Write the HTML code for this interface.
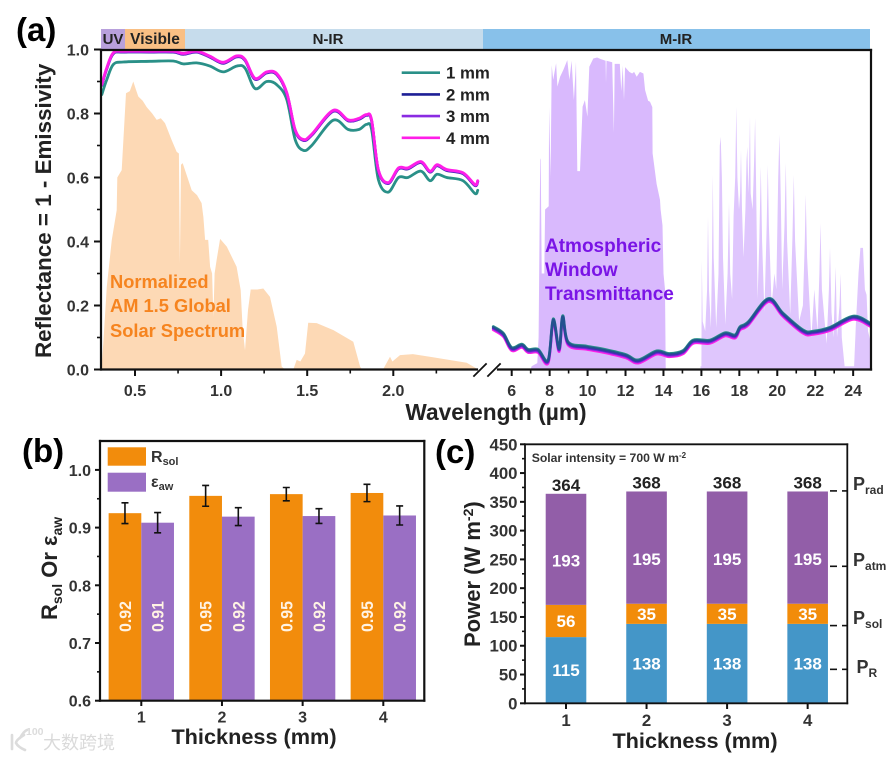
<!DOCTYPE html>
<html lang="en">
<head>
<meta charset="utf-8">
<title>Reflectance spectra, Rsol / emissivity bars and power budget</title>
<style>
html,body{margin:0;padding:0;background:#fff;}
svg{display:block;font-family:"Liberation Sans",sans-serif;font-weight:bold;filter:blur(0.35px);}
</style>
</head>
<body>
<svg id="fig" xmlns="http://www.w3.org/2000/svg" width="886" height="758" viewBox="0 0 886 758">
  <defs>
    <clipPath id="clipA"><rect x="101" y="50" width="770" height="319.5"/></clipPath>
  </defs>

  <g id="panelA">
    <g id="aBands">
      <rect x="101" y="29" width="24" height="20" fill="#b8a0dc"/>
      <rect x="125" y="29" width="60" height="20" fill="#f9bf84"/>
      <rect x="185" y="29" width="298" height="20" fill="#c6dcec"/>
      <rect x="483" y="29" width="387" height="20" fill="#88c1ea"/>
      <text x="113" y="44" font-size="15" text-anchor="middle" fill="#222">UV</text>
      <text x="155" y="44" font-size="15.5" text-anchor="middle" fill="#222">Visible</text>
      <text x="328" y="44" font-size="15" text-anchor="middle" fill="#222">N-IR</text>
      <text x="676" y="44" font-size="15" text-anchor="middle" fill="#222">M-IR</text>
    </g>
    <g id="aFills" clip-path="url(#clipA)"></g>
    <g id="aLines" clip-path="url(#clipA)"></g>
    <g id="aAxes"></g>
    <text font-size="18.3" fill="#f6841f">
      <tspan x="110" y="288">Normalized</tspan>
      <tspan x="110" y="312">AM 1.5 Global</tspan>
      <tspan x="110" y="337">Solar Spectrum</tspan>
    </text>
    <text font-size="19" fill="#7a14e6">
      <tspan x="545" y="252">Atmospheric</tspan>
      <tspan x="545" y="276">Window</tspan>
      <tspan x="545" y="300">Transmittance</tspan>
    </text>
    <g id="aLegend"></g>
    <text x="496" y="420" font-size="22.7" text-anchor="middle" fill="#222">Wavelength (µm)</text>
    <text transform="translate(51,358) rotate(-90)" font-size="22.4" fill="#222">Reflectance = 1 - Emissivity</text>
    <text x="16" y="41" font-size="33" fill="#000">(a)</text>
  </g>

  <g id="panelB">
    <g id="bBars"></g>
    <g id="bAxes"></g>
    <g>
      <rect x="107.7" y="447.3" width="38.3" height="18.4" fill="#f28c0c"/>
      <rect x="107.7" y="472.7" width="38.3" height="19" fill="#9a6fc4"/>
      <text x="151" y="462" font-size="16" fill="#333">R<tspan font-size="11" dy="3">sol</tspan></text>
      <text x="151" y="487" font-size="16" fill="#333">ε<tspan font-size="11" dy="3">aw</tspan></text>
    </g>
    <text x="254" y="744" font-size="21.7" text-anchor="middle" fill="#222">Thickness (mm)</text>
    <text transform="translate(57,620) rotate(-90)" font-size="22" fill="#222">R<tspan font-size="14" dy="5">sol</tspan><tspan dy="-5"> Or ε</tspan><tspan font-size="14" dy="5">aw</tspan></text>
    <text x="22" y="462" font-size="33" fill="#000">(b)</text>
  </g>

  <g id="panelC">
    <g id="cBars"></g>
    <g id="cAxes"></g>
    <text x="531.7" y="462" font-size="12.2" fill="#333">Solar intensity = 700 W m<tspan font-size="8" dy="-4">-2</tspan></text>
    <text x="853" y="490" font-size="18" fill="#333">P<tspan font-size="12" dy="4">rad</tspan></text>
    <text x="853" y="566" font-size="18" fill="#333">P<tspan font-size="12" dy="4">atm</tspan></text>
    <text x="853" y="624" font-size="18" fill="#333">P<tspan font-size="12" dy="4">sol</tspan></text>
    <text x="856.5" y="673" font-size="18" fill="#333">P<tspan font-size="12" dy="4">R</tspan></text>
    <text x="695" y="748" font-size="21.7" text-anchor="middle" fill="#222">Thickness (mm)</text>
    <text transform="translate(480,647) rotate(-90)" font-size="22" fill="#222">Power (W m<tspan font-size="14" dy="-7">-2</tspan><tspan dy="7">)</tspan></text>
    <text x="435" y="463" font-size="33" fill="#000">(c)</text>
  </g>

  <g fill="none" stroke="#dcdcdc">
    <path d="M12 735 V749 M24 735 Q16 740 16 743 Q18 747 25 750 M20 738 Q24 731 27 730" stroke-width="2.6" stroke-linecap="round"/>
    <text x="26" y="735" font-size="10.5" fill="#dcdcdc" stroke="none">100</text>
    <text x="43" y="749" font-size="18" fill="#dadada" stroke="none" font-weight="normal" style="font-family:'Liberation Sans','Noto Sans CJK SC',sans-serif">大数跨境</text>
  </g>
</svg>

<script>
/* ---------- Panel (a) data ---------- */
const solarWl = [0.30,0.307,0.316,0.336,0.365,0.394,0.397,0.423,0.448,0.47,0.49,0.505,0.519,0.545,0.568,0.6,0.626,0.65,0.674,0.713,0.742,0.755,0.761,0.767,0.777,0.829,0.86,0.887,0.897,0.907,0.925,0.936,0.948,0.955,0.962,0.974,0.994,1.033,1.09,1.114,1.125,1.139,1.156,1.172,1.21,1.245,1.284,1.323,1.352,1.371,1.419,1.439,1.46,1.487,1.506,1.555,1.652,1.768,1.807,1.818,1.94,1.981,1.995,2.039,2.114,2.23,2.426,2.484];
const solarValues = [0,0.02,0.082,0.259,0.405,0.498,0.60,0.623,0.863,0.87,0.90,0.875,0.853,0.84,0.82,0.80,0.78,0.785,0.77,0.717,0.68,0.675,0.33,0.64,0.645,0.56,0.545,0.52,0.476,0.405,0.405,0.321,0.30,0.164,0.30,0.342,0.408,0.384,0.321,0.248,0.13,0.06,0.186,0.25,0.25,0.253,0.227,0.134,0.009,0,0,0.03,0.025,0.05,0.146,0.145,0.123,0.087,0.009,0,0,0.04,0.025,0.045,0.048,0.038,0.021,0.003];

const atmWl = [7.0,7.05,7.35,7.42,7.5,7.53,7.58,7.72,7.76,7.95,7.97,8.05,8.11,8.19,8.34,8.41,8.55,8.72,8.93,9.04,9.16,9.28,9.39,9.46,9.6,9.74,9.86,9.99,10.09,10.3,10.5,10.7,10.95,10.97,11.0,11.3,11.39,11.43,11.7,11.78,11.85,11.92,11.98,12.2,12.35,12.45,12.59,12.76,12.94,13.03,13.19,13.29,13.41,13.43,13.64,13.82,13.85,13.95,14.0,14.08,14.12];
const atmValues = [0,0.01,0.02,0.1,0.655,0.66,0.3,0.3,0.5,0.51,0.82,0.6,0.951,0.905,0.957,0.884,0.915,0.936,0.967,0.905,0.965,0.842,0.962,0.62,0.62,0.821,0.842,0.79,0.946,0.972,0.975,0.97,0.965,0.895,0.965,0.96,0.739,0.955,0.955,0.87,0.95,0.842,0.945,0.93,0.925,0.93,0.915,0.93,0.925,0.873,0.84,0.837,0.82,0.676,0.58,0.53,0.50,0.45,0.30,0.25,0.01];

const atmFarWl = [15.95,16.0,16.02,16.07,16.2,16.3,16.35,16.4,16.5,16.56,16.6,16.65,16.78,16.9,16.97,17.02,17.08,17.14,17.26,17.38,17.455,17.52,17.62,17.7,17.78,17.84,17.9,17.98,18.04,18.09,18.14,18.22,18.32,18.38,18.42,18.48,18.52,18.56,18.6,18.7,18.78,18.83,18.88,18.96,19.05,19.13,19.2,19.32,19.44,19.5,19.56,19.7,19.85,19.95,20.05,20.11,20.18,20.26,20.38,20.45,20.52,20.68,20.8,20.87,20.94,21.15,21.35,21.45,21.5,21.57,21.8,21.95,22.12,22.22,22.28,22.35,22.6,22.72,22.78,22.86,22.96,23.08,23.15,23.28,23.34,23.4,23.55,24.05,24.15,24.28,24.38,24.52,24.62,24.71,24.78,24.95];
const atmFarValues = [0.01,0.01,0.342,0.15,0.12,0.25,0.478,0.25,0.13,0.35,0.608,0.35,0.13,0.3,0.7,0.727,0.6,0.35,0.14,0.3,0.524,0.3,0.22,0.48,0.6,0.821,0.6,0.5,0.55,0.686,0.5,0.35,0.5,0.65,0.696,0.55,0.65,0.79,0.55,0.5,0.65,0.786,0.6,0.22,0.4,0.634,0.4,0.18,0.45,0.64,0.45,0.2,0.3,0.25,0.6,0.735,0.55,0.25,0.45,0.646,0.4,0.17,0.42,0.608,0.4,0.15,0.2,0.4,0.547,0.35,0.1,0.25,0.12,0.3,0.457,0.25,0.08,0.25,0.38,0.18,0.1,0.321,0.1,0.2,0.30,0.1,0.01,0.01,0.15,0.3,0.38,0.38,0.25,0.233,0.12,0.08];

const wlLeft = [0.307,0.336,0.374,0.432,0.587,0.722,0.78,0.858,0.935,1.012,1.09,1.139,1.197,1.265,1.323,1.381,1.43,1.477,1.526,1.651,1.738,1.8,1.845,1.874,1.913,1.97,2.03,2.085,2.16,2.213,2.254,2.31,2.405,2.474,2.49];
const refl1Left = [0.859,0.906,0.953,0.961,0.963,0.964,0.955,0.958,0.948,0.93,0.948,0.942,0.878,0.9,0.89,0.844,0.719,0.685,0.70,0.779,0.75,0.75,0.766,0.75,0.594,0.554,0.6,0.6,0.62,0.59,0.61,0.6,0.59,0.55,0.56];
const refl2Left = [0.888,0.94,0.987,0.992,0.992,0.992,0.985,0.992,0.976,0.957,0.977,0.966,0.907,0.927,0.922,0.863,0.747,0.716,0.732,0.807,0.777,0.782,0.794,0.777,0.622,0.581,0.627,0.627,0.647,0.617,0.637,0.622,0.612,0.575,0.587];
const refl3Left = [0.889,0.941,0.988,0.993,0.993,0.993,0.986,0.993,0.977,0.958,0.978,0.967,0.908,0.928,0.923,0.864,0.748,0.717,0.733,0.808,0.778,0.783,0.795,0.778,0.623,0.582,0.628,0.628,0.648,0.618,0.638,0.623,0.613,0.576,0.588];
const refl4Left = [0.891,0.943,0.99,0.995,0.995,0.995,0.988,0.995,0.979,0.96,0.98,0.969,0.91,0.93,0.925,0.866,0.75,0.719,0.735,0.81,0.78,0.785,0.797,0.78,0.625,0.584,0.63,0.63,0.65,0.62,0.64,0.625,0.615,0.578,0.59];

const wlRight = [5.03,5.56,6,6.53,6.87,7.39,7.92,8.19,8.5,8.69,8.97,9.95,10.8,12,12.67,13.64,14.3,15.03,15.57,16.45,17.25,17.77,18.04,18.47,19.53,20.3,21.37,21.9,22.78,24,24.9];
const refl1Right = [0.134,0.113,0.069,0.079,0.063,0.063,0.03,0.158,0.066,0.168,0.087,0.073,0.064,0.047,0.03,0.058,0.05,0.059,0.092,0.092,0.115,0.108,0.134,0.149,0.222,0.176,0.123,0.12,0.132,0.167,0.145];
const refl2Right = [0.131,0.11,0.066,0.076,0.06,0.06,0.027,0.155,0.063,0.165,0.084,0.07,0.061,0.044,0.027,0.055,0.047,0.056,0.089,0.089,0.112,0.105,0.131,0.146,0.219,0.173,0.12,0.117,0.129,0.164,0.142];
const refl3Right = [0.128,0.107,0.063,0.073,0.057,0.057,0.024,0.152,0.06,0.162,0.081,0.067,0.058,0.041,0.024,0.052,0.044,0.053,0.086,0.086,0.109,0.102,0.128,0.143,0.216,0.17,0.117,0.114,0.126,0.161,0.139];
const refl4Right = [0.124,0.103,0.059,0.069,0.053,0.053,0.02,0.148,0.056,0.158,0.077,0.063,0.054,0.037,0.02,0.048,0.04,0.049,0.082,0.082,0.105,0.098,0.124,0.139,0.212,0.166,0.113,0.11,0.122,0.157,0.135];

const legendNames = ["1 mm","2 mm","3 mm","4 mm"];
const aYTicks = [0,0.2,0.4,0.6,0.8,1.0];
const aYMinor = [0.1,0.3,0.5,0.7,0.9];
const aXLeftTicks = [0.5,1.0,1.5,2.0];
const aXLeftMinor = [0.75,1.25,1.75,2.25];
const aXRightTicks = [6,8,10,12,14,16,18,20,22,24];
const aXRightMinor = [7,9,11,13,15,17,19,21,23];

/* ---------- Panel (b) data ---------- */
const thickness = [1,2,3,4];
const rsolValues = [0.925,0.955,0.958,0.96];
const eawValues = [0.9085,0.919,0.92,0.921];
const rsolErrors = [0.018,0.018,0.0115,0.015];
const eawErrors = [0.0175,0.0155,0.0127,0.0165];
const rsolLabels = ["0.92","0.95","0.95","0.95"];
const eawLabels = ["0.91","0.92","0.92","0.92"];
const bYTicks = [0.6,0.7,0.8,0.9,1.0];
const bYMinor = [0.65,0.75,0.85,0.95];

/* ---------- Panel (c) data ---------- */
const powerR = [115,138,138,138];
const powerSol = [56,35,35,35];
const powerAtm = [193,195,195,195];
const powerTotal = [364,368,368,368];
const cYTicks = [0,50,100,150,200,250,300,350,400,450];
const cYMinor = [25,75,125,175,225,275,325,375,425];
const cRightMarks = [369,238,135,59];

/* ---------- Axis functions ---------- */
const NS = "http://www.w3.org/2000/svg";
const xLeft = w => 135 + (w - 0.5) * 172.2;
const xRight = w => 511.7 + (w - 6) * 18.97;
const yA = v => 369.5 - v * 320;
const xB = t => 141.3 + (t - 1) * 80.67;
const yB = v => 700.7 - (v - 0.6) * 577;
const xC = t => 566 + (t - 1) * 80.55;
const yC = v => 703.3 - v * 0.5756;

function node(tag, attrs, parent) {
  const el = document.createElementNS(NS, tag);
  for (const k in attrs) el.setAttribute(k, attrs[k]);
  parent.appendChild(el);
  return el;
}
function tickLine(parent, x1, y1, x2, y2, w) {
  const el = node("line", {x1: x1, y1: y1, x2: x2, y2: y2, stroke: "#111", "stroke-width": w}, parent);
  
  
  return el;
}
function tickText(parent, x, y, str, anchor, size) {
  const el = node("text", {x: x, y: y, "text-anchor": anchor, "font-size": size, fill: "#333"}, parent);
  el.textContent = str;
  
  
  return el;
}
function framePart(parent, x1, y1, x2, y2, w) {
  const el = node("line", {x1: x1, y1: y1, x2: x2, y2: y2, stroke: "#111", "stroke-width": w, "stroke-linecap": "square"}, parent);
  
  
  return el;
}

/* ---------- Panel (a) drawing ---------- */
const aFills = document.getElementById("aFills");
const aLines = document.getElementById("aLines");
const aAxes = document.getElementById("aAxes");
const aLegend = document.getElementById("aLegend");

function areaPoints(wls, vals, xf) {
  const pts = wls.map((w, i) => xf(w).toFixed(1) + "," + yA(vals[i]).toFixed(1));
  pts.unshift(xf(wls[0]).toFixed(1) + "," + yA(0));
  pts.push(xf(wls[wls.length - 1]).toFixed(1) + "," + yA(0));
  return pts.join(" ");
}
const solarArea = node("polygon", {points: areaPoints(solarWl, solarValues, xLeft), fill: "#fdd9b5"}, aFills);


const atmArea = node("polygon", {points: areaPoints(atmWl, atmValues, xRight), fill: "#d9b9fd"}, aFills);


const atmFarArea = node("polygon", {points: areaPoints(atmFarWl, atmFarValues, xRight), fill: "#dfc6fd"}, aFills);



const lineColors = ["#2a9088", "#1d1f96", "#8a2be2", "#ff1ee8"];
function smoothPath(px, py) {
  let d = "M" + px[0].toFixed(1) + " " + py[0].toFixed(1);
  for (let i = 0; i < px.length - 1; i++) {
    const a = Math.max(i - 1, 0), b = Math.min(i + 2, px.length - 1);
    const c1x = px[i] + (px[i + 1] - px[a]) / 6, c1y = py[i] + (py[i + 1] - py[a]) / 6;
    const c2x = px[i + 1] - (px[b] - px[i]) / 6, c2y = py[i + 1] - (py[b] - py[i]) / 6;
    d += "C" + c1x.toFixed(1) + " " + c1y.toFixed(1) + " " + c2x.toFixed(1) + " " + c2y.toFixed(1) + " " + px[i + 1].toFixed(1) + " " + py[i + 1].toFixed(1);
  }
  return d;
}
function curve(wls, vals, xf, color, opacity) {
  const d = smoothPath(wls.map(xf), vals.map(yA));
  const el = node("path", {d: d, fill: "none", stroke: color, "stroke-opacity": opacity, "stroke-width": 2.8, "stroke-linejoin": "round", "stroke-linecap": "round"}, aLines);
  
  
}
curve(wlLeft, refl1Left, xLeft, lineColors[0], 1);
curve(wlLeft, refl2Left, xLeft, lineColors[1], 1);
curve(wlLeft, refl3Left, xLeft, lineColors[2], 1);
curve(wlLeft, refl4Left, xLeft, lineColors[3], 1);
curve(wlRight, refl4Right, xRight, lineColors[3], 1);
curve(wlRight, refl3Right, xRight, lineColors[2], 1);
curve(wlRight, refl1Right, xRight, lineColors[0], 1);
curve(wlRight, refl2Right, xRight, lineColors[1], 0.55);

framePart(aAxes, 101, 50, 871, 50, 2.2);
framePart(aAxes, 101, 50, 101, 369.5, 2.2);
framePart(aAxes, 871, 50, 871, 369.5, 2.2);
framePart(aAxes, 101, 369.5, 477, 369.5, 2.2);
framePart(aAxes, 498, 369.5, 871, 369.5, 2.2);
framePart(aAxes, 474, 376, 486, 364, 1.8);
framePart(aAxes, 488, 376, 500, 364, 1.8);

aYTicks.forEach(v => {
  tickLine(aAxes, 94, yA(v), 101, yA(v), 2);
  tickText(aAxes, 89, yA(v) + 6, v.toFixed(1), "end", 16);
});
aYMinor.forEach(v => { tickLine(aAxes, 97, yA(v), 101, yA(v), 1.6); });
aXLeftTicks.forEach(w => {
  tickLine(aAxes, xLeft(w), 369.5, xLeft(w), 376, 2);
  tickText(aAxes, xLeft(w), 396, w.toFixed(1), "middle", 16);
});
aXLeftMinor.forEach(w => { tickLine(aAxes, xLeft(w), 369.5, xLeft(w), 373.5, 1.6); });
aXRightTicks.forEach(w => {
  tickLine(aAxes, xRight(w), 369.5, xRight(w), 376, 2);
  tickText(aAxes, xRight(w), 396, String(w), "middle", 16);
});
aXRightMinor.forEach(w => { tickLine(aAxes, xRight(w), 369.5, xRight(w), 373.5, 1.6); });

legendNames.forEach((name, i) => {
  const ly = 72.7 + i * 21.7;
  const ll = node("line", {x1: 401.7, y1: ly, x2: 440, y2: ly, stroke: lineColors[i], "stroke-width": 2.6}, aLegend);
  
  
  const lt = node("text", {x: 446, y: ly + 6, "font-size": 16.8, fill: "#222"}, aLegend);
  lt.textContent = name;
  
  
});

/* ---------- Panel (b) drawing ---------- */
const bBars = document.getElementById("bBars");
const bAxes = document.getElementById("bAxes");
const bBarW = 32.67;

function barB(x, value, color, err, label) {
  const top = yB(value);
  const r = node("rect", {x: x, y: top, width: bBarW, height: yB(0.6) - top, fill: color}, bBars);
  
  
  const cx = x + bBarW / 2;
  const e = node("path", {d: "M" + (cx - 3.5) + " " + yB(value + err) + "h7M" + cx + " " + yB(value + err) + "V" + yB(value - err) + "M" + (cx - 3.5) + " " + yB(value - err) + "h7", fill: "none", stroke: "#111", "stroke-width": 1.6}, bBars);
  
  
  const t = node("text", {transform: "translate(" + (cx + 6) + ",632) rotate(-90)", "font-size": 17, textLength: 31, lengthAdjust: "spacingAndGlyphs", fill: "#fff3e4"}, bBars);
  t.textContent = label;
  
  
}
thickness.forEach((t, i) => {
  barB(xB(t) - bBarW, rsolValues[i], "#f28c0c", rsolErrors[i], rsolLabels[i]);
  barB(xB(t), eawValues[i], "#9a6fc4", eawErrors[i], eawLabels[i]);
  tickLine(bAxes, xB(t), 700.7, xB(t), 706, 2);
  tickText(bAxes, xB(t), 722.5, String(t), "middle", 16);
});
framePart(bAxes, 100, 441, 424.3, 441, 2.2);
framePart(bAxes, 100, 441, 100, 700.7, 2.2);
framePart(bAxes, 424.3, 441, 424.3, 700.7, 2.2);
framePart(bAxes, 100, 700.7, 424.3, 700.7, 2.2);
bYTicks.forEach(v => {
  tickLine(bAxes, 95, yB(v), 100, yB(v), 2);
  tickText(bAxes, 91, yB(v) + 6, v.toFixed(1), "end", 16);
});
bYMinor.forEach(v => { tickLine(bAxes, 97, yB(v), 100, yB(v), 1.6); });

/* ---------- Panel (c) drawing ---------- */
const cBars = document.getElementById("cBars");
const cAxes = document.getElementById("cAxes");
const cBarW = 40.6;

function segC(t, base, value, color, labelFrac) {
  const top = yC(base + value);
  const r = node("rect", {x: xC(t) - cBarW / 2, y: top, width: cBarW, height: yC(base) - top, fill: color}, cBars);
  
  
  const l = node("text", {x: xC(t), y: yC(base + value * labelFrac) + 6, "text-anchor": "middle", "font-size": 17, fill: "#fff"}, cBars);
  l.textContent = String(value);
  
  
}
thickness.forEach((t, i) => {
  segC(t, 0, powerR[i], "#4496c8", 0.5);
  segC(t, powerR[i], powerSol[i], "#f28c0a", 0.5);
  segC(t, powerR[i] + powerSol[i], powerAtm[i], "#925ea8", 0.4);
  const total = node("text", {x: xC(t), y: yC(powerTotal[i]) - 3, "text-anchor": "middle", "font-size": 17, fill: "#222"}, cBars);
  total.textContent = String(powerTotal[i]);
  
  
  tickLine(cAxes, xC(t), 703.3, xC(t), 709, 2);
  tickText(cAxes, xC(t), 726, String(t), "middle", 16.8);
});
framePart(cAxes, 525, 444.3, 847.3, 444.3, 1.8);
framePart(cAxes, 525, 444.3, 525, 703.3, 1.8);
framePart(cAxes, 847.3, 444.3, 847.3, 703.3, 1.8);
framePart(cAxes, 525, 703.3, 847.3, 703.3, 1.8);
cYTicks.forEach(v => {
  tickLine(cAxes, 520, yC(v), 525, yC(v), 2);
  tickText(cAxes, 517.5, yC(v) + 6, String(v), "end", 16.8);
});
cYMinor.forEach(v => { tickLine(cAxes, 522, yC(v), 525, yC(v), 1.6); });
cRightMarks.forEach(v => {
  tickLine(cAxes, 830, yC(v), 837, yC(v), 1.6);
  tickLine(cAxes, 842, yC(v), 847.3, yC(v), 1.6);
});
</script>
</body>
</html>
